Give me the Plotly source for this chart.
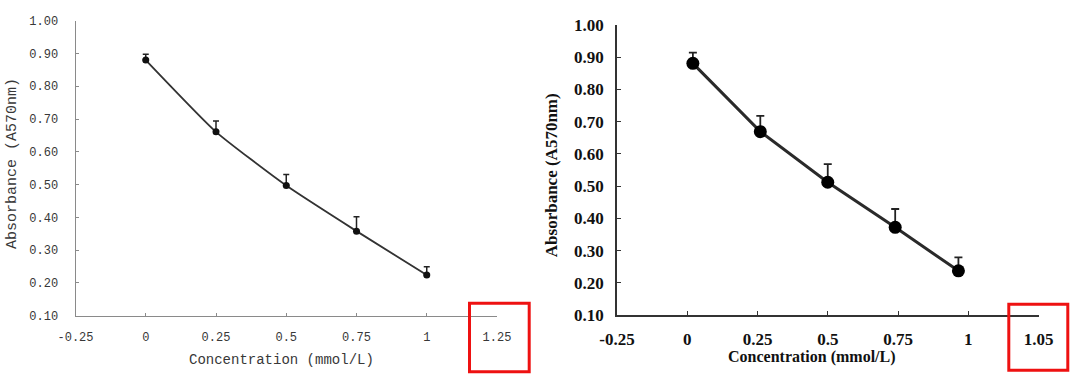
import plotly.graph_objects as go

# ---------------- data ----------------
left_x = [0, 0.25, 0.5, 0.75, 1]
left_y = [0.880, 0.661, 0.497, 0.358, 0.224]
left_err = [0.018, 0.033, 0.034, 0.044, 0.025]

right_x = [0.02, 0.26, 0.50, 0.74, 0.965]
right_y = [0.881, 0.669, 0.512, 0.372, 0.237]
right_err = [0.033, 0.049, 0.056, 0.057, 0.042]

x_tickvals = [-0.25, 0, 0.25, 0.5, 0.75, 1, 1.25]
left_x_ticktext = ["-0.25", "0", "0.25", "0.5", "0.75", "1", "1.25"]
right_x_ticktext = ["-0.25", "0", "0.25", "0.5", "0.75", "1", "1.05"]
y_tickvals = [0.1, 0.2, 0.3, 0.4, 0.5, 0.6, 0.7, 0.8, 0.9, 1.0]
y_ticktext = ["0.10", "0.20", "0.30", "0.40", "0.50", "0.60", "0.70", "0.80", "0.90", "1.00"]

x_title = "Concentration (mmol/L)"
y_title = "Absorbance (A570nm)"

W, H = 1080, 385

def px(x):
    return x / W

def py(y):
    return (H - y) / H

mono = "Liberation Mono"
serif = "Liberation Serif"
left_text = "#383838"

fig = go.Figure()

fig.add_trace(go.Scatter(
    x=left_x, y=left_y, mode="lines+markers",
    line=dict(color="#333333", width=1.8, shape="spline", smoothing=0.5),
    marker=dict(color="#111111", size=7),
    error_y=dict(type="data", symmetric=False, array=left_err,
                 arrayminus=[0] * len(left_err), color="#222222",
                 thickness=1.5, width=3),
    xaxis="x", yaxis="y", showlegend=False,
))

fig.add_trace(go.Scatter(
    x=right_x, y=right_y, mode="lines+markers",
    line=dict(color="#2a2a2a", width=3),
    marker=dict(color="#000000", size=13),
    error_y=dict(type="data", symmetric=False, array=right_err,
                 arrayminus=[0] * len(right_err), color="#222222",
                 thickness=1.8, width=4),
    xaxis="x2", yaxis="y2", showlegend=False,
))

common = dict(showgrid=False, zeroline=False, showline=True, ticks="inside",
              fixedrange=True, automargin=False)

fig.update_layout(
    template="none",
    width=W, height=H,
    margin=dict(l=0, r=0, t=0, b=0, pad=0),
    paper_bgcolor="white", plot_bgcolor="white",
    xaxis=dict(domain=[px(75.5), px(497)], range=[-0.25, 1.25], anchor="y",
               tickvals=x_tickvals, ticktext=left_x_ticktext,
               linecolor="#8a8a8a", linewidth=1, tickcolor="#8a8a8a", ticklen=3,
               tickfont=dict(family=mono, size=12, color=left_text),
               ticklabelstandoff=10, **common),
    yaxis=dict(domain=[py(315.7), py(20.7)], range=[0.1, 1.0], anchor="x",
               tickvals=y_tickvals, ticktext=y_ticktext,
               linecolor="#8a8a8a", linewidth=1, tickcolor="#8a8a8a", ticklen=3,
               tickfont=dict(family=mono, size=12, color=left_text),
               ticklabelstandoff=14, **common),
    xaxis2=dict(domain=[px(617), px(1038.5)], range=[-0.25, 1.25], anchor="y2",
                tickvals=x_tickvals, ticktext=right_x_ticktext,
                linecolor="#333333", linewidth=1.5, tickcolor="#333333", ticklen=4,
                tickfont=dict(family=serif, size=17, color="#111111", weight="bold"),
                ticklabelstandoff=8, **common),
    yaxis2=dict(domain=[py(315), py(25)], range=[0.1, 1.0], anchor="x2",
                tickvals=y_tickvals, ticktext=y_ticktext,
                linecolor="#333333", linewidth=1.5, tickcolor="#333333", ticklen=4,
                tickfont=dict(family=serif, size=17, color="#111111", weight="bold"),
                ticklabelstandoff=8, **common),
)

annotations = [
    dict(text=x_title, x=px(281), y=py(360), xref="paper", yref="paper",
         xanchor="center", yanchor="middle", showarrow=False,
         font=dict(family=mono, size=14, color=left_text)),
    dict(text=y_title, x=px(12.8), y=py(163.3), xref="paper", yref="paper",
         xanchor="center", yanchor="middle", showarrow=False, textangle=-90,
         font=dict(family=mono, size=15, color=left_text)),
    dict(text=x_title, x=px(811.7), y=py(357), xref="paper", yref="paper",
         xanchor="center", yanchor="middle", showarrow=False,
         font=dict(family=serif, size=16, color="#111111", weight="bold")),
    dict(text=y_title, x=px(551.7), y=py(175.5), xref="paper", yref="paper",
         xanchor="center", yanchor="middle", showarrow=False, textangle=-90,
         font=dict(family=serif, size=17, color="#111111", weight="bold")),
]
fig.update_layout(annotations=annotations)

shapes = [
    dict(type="rect", xref="paper", yref="paper",
         x0=px(469.5), x1=px(529.2), y0=py(371.8), y1=py(303.2),
         line=dict(color="#ee1111", width=3), fillcolor="rgba(0,0,0,0)"),
    dict(type="rect", xref="paper", yref="paper",
         x0=px(1008.8), x1=px(1067.8), y0=py(370.2), y1=py(304.2),
         line=dict(color="#ee1111", width=3), fillcolor="rgba(0,0,0,0)"),
]
fig.update_layout(shapes=shapes)

fig.write_html("out.html")
